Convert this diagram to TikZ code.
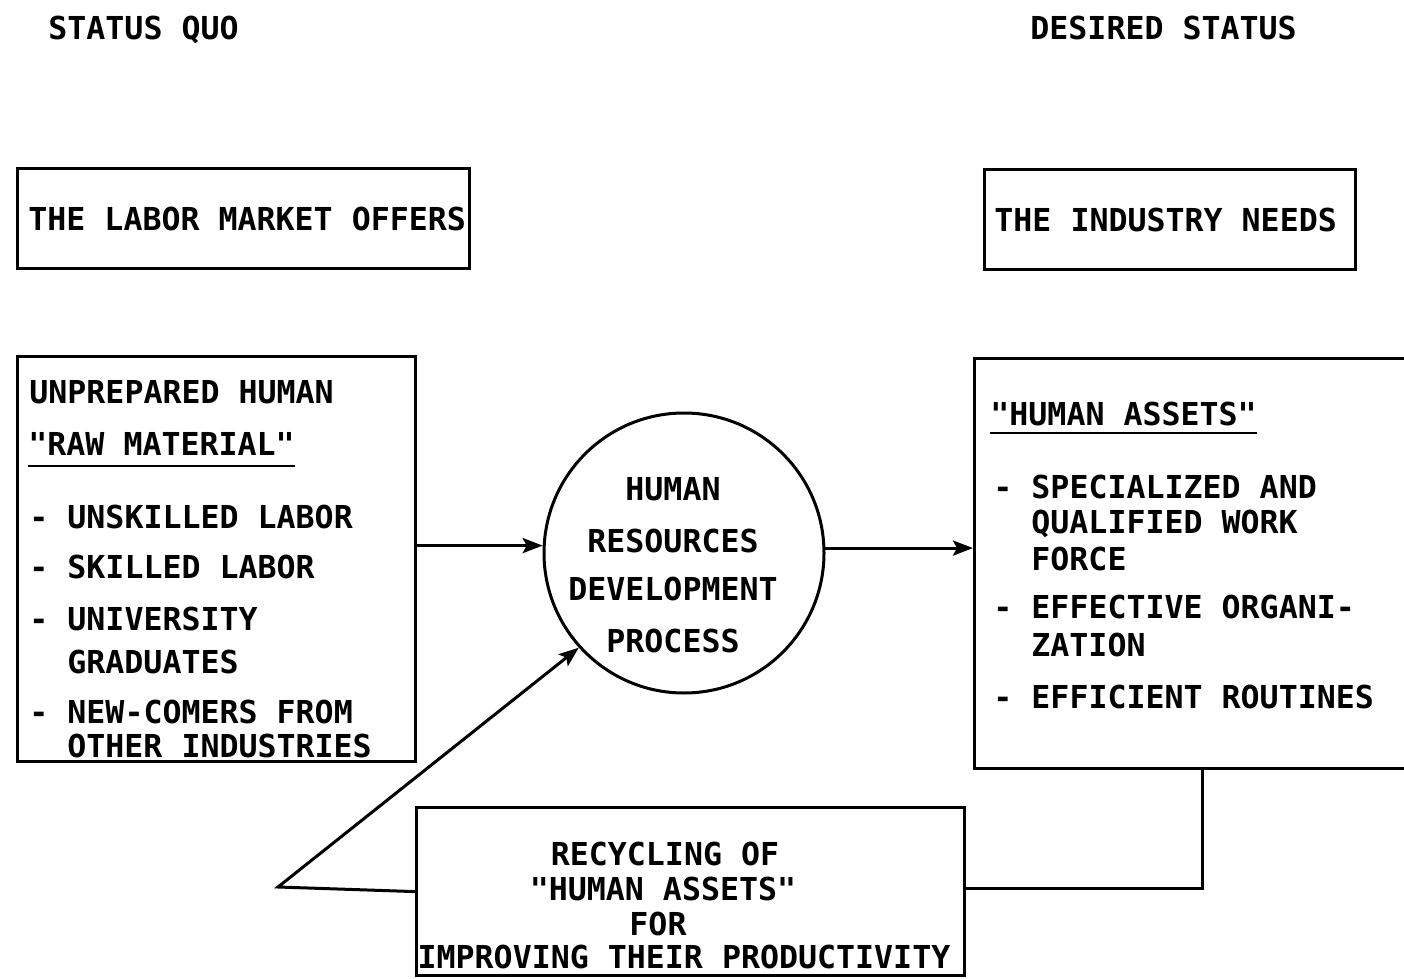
\documentclass[tikz,border=0pt]{standalone}
\usepackage{fontspec}
\newfontfamily\plotfont{DejaVu Sans Mono}
\usetikzlibrary{arrows.meta}

\tikzset{
  box/.style={draw, line width=1.6pt, rectangle, anchor=north west, inner sep=0pt},
  disc/.style={draw, line width=1.5pt, circle, inner sep=0pt, minimum size=140pt},
  txt/.style={inner sep=0pt, anchor=base west, font=\plotfont\bfseries\fontsize{15.8pt}{19pt}\selectfont},
  ctxt/.style={txt, anchor=base},
  link/.style={line width=1.5pt},
  arr/.style={link, -{Stealth[length=10pt,width=7.5pt,inset=2pt]}},
  uline/.style={line width=1.4pt}
}

\begin{document}
\begin{tikzpicture}[x=0.5pt, y=-0.5pt]
\useasboundingbox (0,0) rectangle (1404,979);
\clip (0,0) rectangle (1404,979);

% column headings
\node[txt] (hquo) at (48,40) {STATUS QUO};
\node[txt] (hdes) at (1030,40) {DESIRED STATUS};

% upper boxes
\node[box, minimum width=226pt, minimum height=50pt] (lab) at (16,167) {};
\node[txt] (labt) at (28,230) {THE LABOR MARKET OFFERS};
\node[box, minimum width=185.5pt, minimum height=50pt] (ind) at (983,168) {};
\node[txt] (indt) at (994,232) {THE INDUSTRY NEEDS};

% raw material box
\node[box, minimum width=199pt, minimum height=202.5pt] (raw) at (16,355) {};
\node[txt] (raw1) at (29,403) {UNPREPARED HUMAN};
\node[txt] (raw2) at (28,455) {"RAW MATERIAL"};
\draw[uline] ([yshift=-5.5pt]raw2.base west) -- ([yshift=-5.5pt]raw2.base east);
\node[txt] (raw3) at (29,528) {- UNSKILLED LABOR};
\node[txt] (raw4) at (29,578) {- SKILLED LABOR};
\node[txt] (raw5) at (29,630) {- UNIVERSITY};
\node[txt] (raw6) at (67,673) {GRADUATES};
\node[txt] (raw7) at (29,723) {- NEW-COMERS FROM};
\node[txt] (raw8) at (67,757) {OTHER INDUSTRIES};

% human assets box (runs past the right edge)
\node[box, minimum width=240pt, minimum height=205pt] (ast) at (973,357) {};
\node[txt] (ast1) at (990,425) {"HUMAN ASSETS"};
\draw[uline] ([yshift=-4pt]ast1.base west) -- ([yshift=-4pt]ast1.base east);
\node[txt] (ast2) at (993,498) {- SPECIALIZED AND};
\node[txt] (ast3) at (1031,533) {QUALIFIED WORK};
\node[txt] (ast4) at (1031,570) {FORCE};
\node[txt] (ast5) at (993,618) {- EFFECTIVE ORGANI-};
\node[txt] (ast6) at (1031,656) {ZATION};
\node[txt] (ast7) at (993,708) {- EFFICIENT ROUTINES};

% development process
\node[disc] (proc) at (684,553) {};
\node[ctxt] (proc1) at (673,500) {HUMAN};
\node[ctxt] (proc2) at (673,552) {RESOURCES};
\node[ctxt] (proc3) at (673,600) {DEVELOPMENT};
\node[ctxt] (proc4) at (673,652) {PROCESS};

% recycling box
\node[box, minimum width=274pt, minimum height=84pt] (rec) at (415,806) {};
\node[ctxt] (rec1) at (665,865) {RECYCLING OF};
\node[ctxt] (rec2) at (663,900) {"HUMAN ASSETS"};
\node[ctxt] (rec3) at (658,935) {FOR};
\node[ctxt] (rec4) at (684,968) {IMPROVING THEIR PRODUCTIVITY};

% flow
\draw[arr] (proc.177 -| raw.east) -- (proc.177);
\draw[arr] (proc.2) -- (proc.2 -| ast.west);

% feedback loop
\coordinate (drop) at (1202,888);
\coordinate (bend) at (278,887);
\draw[link] (drop |- ast.south) -- (drop) -- (drop -| rec.east);
\draw[arr] (rec.west) -- (bend) -- (proc.222);
\end{tikzpicture}
\end{document}
